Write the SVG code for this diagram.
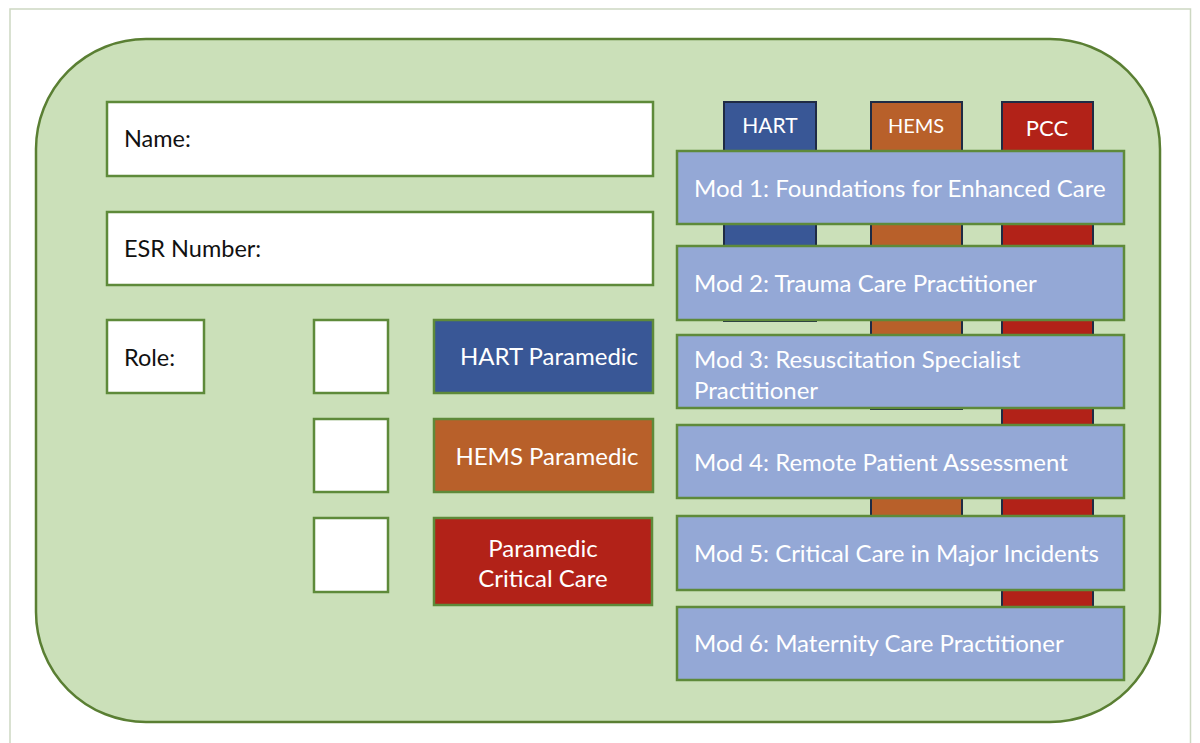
<svg xmlns="http://www.w3.org/2000/svg" width="1200" height="743" viewBox="0 0 1200 743">
<style>
text{font-family:Lato,"Liberation Sans",sans-serif;}
.field{fill:#ffffff;stroke:#5e8a3a;stroke-width:2.5}
.lbl{fill:#111111;font-size:23.5px}
.wt{fill:#ffffff;font-size:24px}
.mod{fill:#94a8d6;stroke:#5e8a3a;stroke-width:2.5}
.col{stroke:#1f2b45;stroke-width:2}
.role{stroke:#5e8a3a;stroke-width:2.5}
</style>
<rect x="10" y="9" width="1180.5" height="745" fill="#ffffff" stroke="#cdd8c2" stroke-width="1.5"/>
<g id="card">
<rect x="36" y="39" width="1124" height="683" rx="110" ry="110" fill="#cbe0b9" stroke="#5a7f33" stroke-width="2.5"/>
</g>
<g id="name"><rect class="field" x="107" y="102" width="546" height="74"/><text class="lbl" x="124" y="147">Name:</text></g>
<g id="esr"><rect class="field" x="107" y="212" width="546" height="73"/><text class="lbl" x="124" y="257">ESR Number:</text></g>
<g id="role"><rect class="field" x="107" y="320" width="97" height="73"/><text class="lbl" x="124" y="366">Role:</text></g>
<g id="check1"><rect class="field" x="314" y="320" width="74" height="73"/></g>
<g id="check2"><rect class="field" x="314" y="419" width="74" height="73"/></g>
<g id="check3"><rect class="field" x="314" y="518" width="74" height="74"/></g>
<g id="hart-paramedic"><rect class="role" x="434" y="320" width="219" height="73" fill="#395796"/><text class="wt" x="549" y="365" text-anchor="middle">HART Paramedic</text></g>
<g id="hems-paramedic"><rect class="role" x="434" y="419" width="219" height="73" fill="#b8602a"/><text class="wt" x="547" y="465" text-anchor="middle">HEMS Paramedic</text></g>
<g id="pcc-paramedic"><rect class="role" x="434" y="518" width="218" height="87" fill="#b22218"/><text class="wt" x="543" y="557" text-anchor="middle">Paramedic</text><text class="wt" x="543" y="587" text-anchor="middle">Critical Care</text></g>
<g id="col-hart"><rect class="col" x="724" y="102" width="92" height="219" fill="#395796"/><text class="wt" x="770" y="133" text-anchor="middle" style="font-size:21px">HART</text></g>
<g id="col-hems"><rect class="col" x="871" y="102" width="91" height="307" fill="#b8602a"/><rect class="col" x="871" y="440" width="91" height="77" fill="#b8602a"/><text class="wt" x="916" y="133" text-anchor="middle" style="font-size:20px">HEMS</text></g>
<g id="col-pcc"><rect class="col" x="1002" y="102" width="91" height="518" fill="#b22218"/><text class="wt" x="1047" y="136" text-anchor="middle" style="font-size:22px">PCC</text></g>
<g id="connectors"></g>
<g id="mod1"><rect class="mod" x="677" y="151" width="447" height="73"/><text class="wt" x="694" y="197">Mod 1: Foundations for Enhanced Care</text></g>
<g id="mod2"><rect class="mod" x="677" y="246" width="447" height="74"/><text class="wt" x="694" y="292">Mod 2: Trauma Care Practitioner</text></g>
<g id="mod3"><rect class="mod" x="677" y="335" width="447" height="73"/><text class="wt" x="694" y="368">Mod 3: Resuscitation Specialist</text><text class="wt" x="694" y="399">Practitioner</text></g>
<g id="mod4"><rect class="mod" x="677" y="425" width="447" height="73"/><text class="wt" x="694" y="471">Mod 4: Remote Patient Assessment</text></g>
<g id="mod5"><rect class="mod" x="677" y="516" width="447" height="74"/><text class="wt" x="694" y="562">Mod 5: Critical Care in Major Incidents</text></g>
<g id="mod6"><rect class="mod" x="677" y="607" width="447" height="73"/><text class="wt" x="694" y="652">Mod 6: Maternity Care Practitioner</text></g>
</svg>
